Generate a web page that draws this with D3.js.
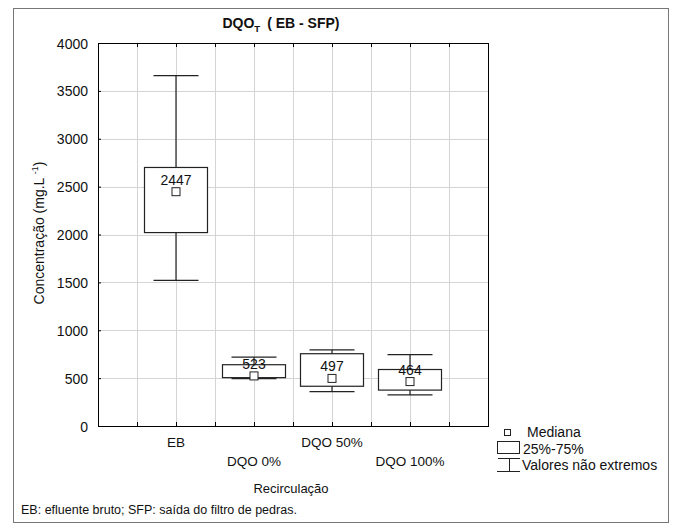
<!DOCTYPE html>
<html>
<head>
<meta charset="utf-8">
<script src="https://cdn.jsdelivr.net/npm/d3@7"></script>
<style>
  body { margin: 0; background: #fff; }
  text { font-family: "Liberation Sans", Arial, sans-serif; fill: #111; }
</style>
</head>
<body>
<div id="chart"></div>
<script>
  // data
  var categories = ['EB', 'DQO 0%', 'DQO 50%', 'DQO 100%'];
  var medians = [2447, 523, 497, 464];
  var q1 = [2020, 505, 415, 375];
  var q3 = [2700, 640, 755, 590];
  var whiskerLow = [1520, 495, 360, 325];
  var whiskerHigh = [3660, 720, 795, 745];
  var yTicks = [0, 500, 1000, 1500, 2000, 2500, 3000, 3500, 4000];

  var width = 673;
  var height = 527;
  var plot = { left: 98, right: 488, top: 43, bottom: 426 };
  var boxWidth = 63;
  var capWidth = 45;
  var markerSize = 8;

  var svg = d3.select('#chart').append('svg')
    .attr('width', width)
    .attr('height', height);

  // outer frame
  svg.append('rect')
    .attr('x', 13.5).attr('y', 8.5)
    .attr('width', 655).attr('height', 514)
    .attr('fill', 'none')
    .attr('stroke', '#777');

  var x = d3.scaleLinear().domain([0, categories.length + 1]).range([plot.left, plot.right]);
  var y = d3.scaleLinear().domain([0, 4000]).range([plot.bottom, plot.top]);

  var xGrid = d3.range(0.5, categories.length + 1, 0.5);

  // grid
  svg.append('g').selectAll('line')
    .data(xGrid)
    .enter().append('line')
    .attr('x1', function (d) { return Math.round(x(d)) + 0.5; })
    .attr('x2', function (d) { return Math.round(x(d)) + 0.5; })
    .attr('y1', plot.top).attr('y2', plot.bottom)
    .attr('stroke', '#d4d4d4');

  svg.append('g').selectAll('line')
    .data(yTicks.slice(1, -1))
    .enter().append('line')
    .attr('x1', plot.left).attr('x2', plot.right)
    .attr('y1', function (d) { return Math.round(y(d)) + 0.5; })
    .attr('y2', function (d) { return Math.round(y(d)) + 0.5; })
    .attr('stroke', '#d4d4d4');

  // axes
  var yAxis = d3.axisLeft(y).tickValues(yTicks).tickFormat(d3.format('d')).tickSize(-3).tickPadding(10);
  var gy = svg.append('g')
    .attr('transform', 'translate(' + plot.left + ',0)')
    .call(yAxis);
  gy.select('.domain').remove();
  gy.selectAll('text').style('font-size', '14px').attr('dy', '0.36em');

  var xAxis = d3.axisBottom(x).tickValues(xGrid).tickSize(-4).tickFormat('');
  var gx = svg.append('g')
    .attr('transform', 'translate(0,' + plot.bottom + ')')
    .call(xAxis);
  gx.select('.domain').remove();

  var xTop = d3.axisTop(x).tickValues(xGrid).tickSize(-4).tickFormat('');
  var gxt = svg.append('g')
    .attr('transform', 'translate(0,' + plot.top + ')')
    .call(xTop);
  gxt.select('.domain').remove();

  svg.append('rect')
    .attr('x', plot.left + 0.5).attr('y', plot.top + 0.5)
    .attr('width', plot.right - plot.left).attr('height', plot.bottom - plot.top)
    .attr('fill', 'none')
    .attr('stroke', '#000');

  // category labels (staggered)
  svg.append('g').selectAll('text')
    .data(categories)
    .enter().append('text')
    .attr('x', function (d, i) { return x(i + 1); })
    .attr('y', function (d, i) { return i % 2 === 0 ? 447 : 466; })
    .attr('text-anchor', 'middle')
    .style('font-size', '13.5px')
    .text(function (d) { return d; });

  // boxes
  var boxes = svg.append('g').selectAll('g')
    .data(categories)
    .enter().append('g');

  boxes.append('line')
    .attr('x1', function (d, i) { return x(i + 1); })
    .attr('x2', function (d, i) { return x(i + 1); })
    .attr('y1', function (d, i) { return y(whiskerLow[i]); })
    .attr('y2', function (d, i) { return y(whiskerHigh[i]); })
    .attr('stroke', '#222').attr('stroke-width', 1.2);

  boxes.append('line')
    .attr('x1', function (d, i) { return x(i + 1) - capWidth / 2; })
    .attr('x2', function (d, i) { return x(i + 1) + capWidth / 2; })
    .attr('y1', function (d, i) { return y(whiskerHigh[i]); })
    .attr('y2', function (d, i) { return y(whiskerHigh[i]); })
    .attr('stroke', '#222').attr('stroke-width', 1.2);

  boxes.append('line')
    .attr('x1', function (d, i) { return x(i + 1) - capWidth / 2; })
    .attr('x2', function (d, i) { return x(i + 1) + capWidth / 2; })
    .attr('y1', function (d, i) { return y(whiskerLow[i]); })
    .attr('y2', function (d, i) { return y(whiskerLow[i]); })
    .attr('stroke', '#222').attr('stroke-width', 1.2);

  boxes.append('rect')
    .attr('x', function (d, i) { return x(i + 1) - boxWidth / 2; })
    .attr('y', function (d, i) { return y(q3[i]); })
    .attr('width', boxWidth)
    .attr('height', function (d, i) { return y(q1[i]) - y(q3[i]); })
    .attr('fill', '#fff')
    .attr('stroke', '#222').attr('stroke-width', 1.2);

  boxes.append('rect')
    .attr('x', function (d, i) { return x(i + 1) - markerSize / 2; })
    .attr('y', function (d, i) { return y(medians[i]) - markerSize / 2; })
    .attr('width', markerSize).attr('height', markerSize)
    .attr('fill', '#fff')
    .attr('stroke', '#222');

  boxes.append('text')
    .attr('x', function (d, i) { return x(i + 1); })
    .attr('y', function (d, i) { return y(medians[i]) - 7; })
    .attr('text-anchor', 'middle')
    .style('font-size', '14px')
    .text(function (d, i) { return medians[i]; });

  // title
  var title = svg.append('text')
    .attr('x', 281).attr('y', 28)
    .attr('text-anchor', 'middle')
    .style('font-size', '14px')
    .style('font-weight', 'bold');
  title.append('tspan').text('DQO');
  title.append('tspan').attr('dy', 4).style('font-size', '9.5px').text('T');
  title.append('tspan').attr('dy', -4).attr('dx', 7).text('( EB - SFP)');

  // axis titles
  var yt = svg.append('text')
    .attr('transform', 'translate(44,233) rotate(-90)')
    .attr('text-anchor', 'middle')
    .style('font-size', '14px');
  yt.append('tspan').text('Concentração (mg.L ');
  yt.append('tspan').attr('dy', -6).style('font-size', '9px').text('-1');
  yt.append('tspan').attr('dy', 6).text(')');

  svg.append('text')
    .attr('x', 291).attr('y', 493)
    .attr('text-anchor', 'middle')
    .style('font-size', '13px')
    .text('Recirculação');

  // legend
  var legend = svg.append('g');
  legend.append('rect')
    .attr('x', 504.5).attr('y', 429.5).attr('width', 6).attr('height', 6)
    .attr('fill', '#fff').attr('stroke', '#222');
  legend.append('text').attr('x', 527).attr('y', 437).style('font-size', '14px').text('Mediana');
  legend.append('rect')
    .attr('x', 497.5).attr('y', 441.5).attr('width', 22).attr('height', 12)
    .attr('fill', '#fff').attr('stroke', '#222');
  legend.append('text').attr('x', 523).attr('y', 454).style('font-size', '14px').text('25%-75%');
  legend.append('line').attr('x1', 498).attr('x2', 520).attr('y1', 458.5).attr('y2', 458.5).attr('stroke', '#222');
  legend.append('line').attr('x1', 509.5).attr('x2', 509.5).attr('y1', 458).attr('y2', 472).attr('stroke', '#222');
  legend.append('line').attr('x1', 497).attr('x2', 520).attr('y1', 471.5).attr('y2', 471.5).attr('stroke', '#222');
  legend.append('text').attr('x', 522).attr('y', 470).style('font-size', '14px').text('Valores não extremos');

  // footnote
  var note = svg.append('text')
    .attr('x', 21).attr('y', 514)
    .style('font-size', '12.5px');
  note.append('tspan').text('EB:');
  note.append('tspan').text(' efluente bruto; SFP: saída do filtro de pedras.');
</script>
</body>
</html>
